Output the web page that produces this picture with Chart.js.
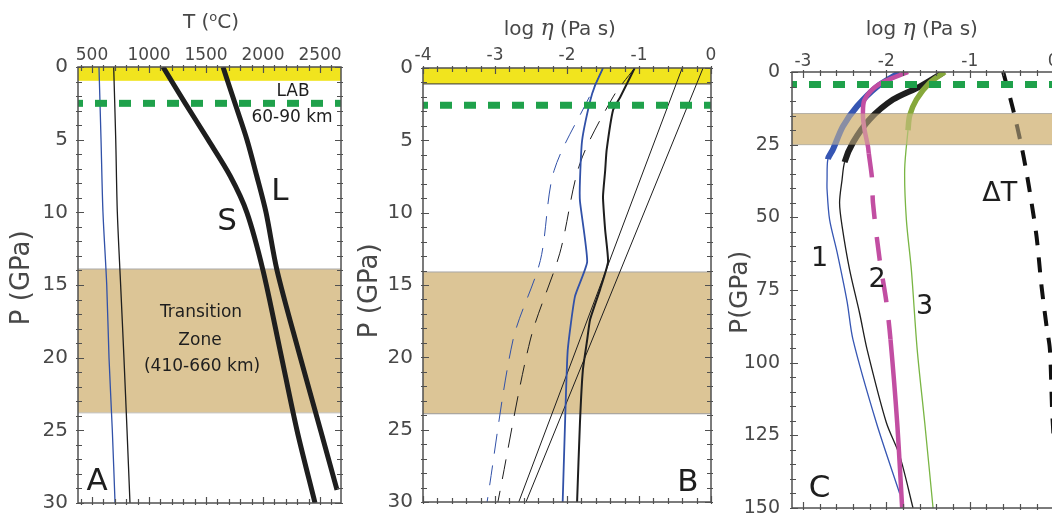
<!DOCTYPE html>
<html>
<head>
<meta charset="utf-8">
<script src="https://cdn.jsdelivr.net/npm/chart.js@4/dist/chart.umd.min.js"></script>
<style>
  html, body { margin: 0; padding: 0; background: #fff; overflow: hidden; }
  body { width: 1052px; height: 515px; position: relative; }
  canvas { position: absolute; top: 0; }
  #panelA { left: 0; }
  #panelB { left: 350px; }
  #panelC { left: 720px; }
</style>
</head>
<body>
<canvas id="panelA" width="350" height="515"></canvas>
<canvas id="panelB" width="370" height="515"></canvas>
<canvas id="panelC" width="400" height="515"></canvas>
<script>
const FONT = '"DejaVu Sans", sans-serif';
const INK = '#1e1e1e';
const GREY = '#484848';

// panel A: temperature against pressure
const pGeo = [0, 5, 10, 15, 20, 25, 30];
const tGeoBlue = [561, 579, 596, 629, 649, 678, 702];
const tGeoBlack = [690, 708, 722, 751, 780, 807, 833];
const pSol = [0, 2.5, 5, 7.5, 10, 14, 19.5, 25, 30];
const tSol = [1123, 1318, 1518, 1712, 1858, 2000, 2150, 2298, 2456];
const pLiq = [0, 2.5, 5, 7.5, 10, 14, 19.5, 25, 29.1];
const tLiq = [1649, 1754, 1859, 1945, 2026, 2123, 2310, 2505, 2649];
const tTicks = [500, 1000, 1500, 2000, 2500];
const pTicksAB = [0, 5, 10, 15, 20, 25, 30];

// panel B: viscosity to 30 GPa
const pBlueB = [0, 1.2, 2.3, 5, 7.8, 9.2, 13.4, 15.8, 19.5, 25, 30];
const etaBlueB = [-1.5, -1.61, -1.68, -1.79, -1.82, -1.82, -1.72, -1.89, -1.99, -2.03, -2.06];
const pBlueDashB = [0, 1.9, 7.1, 13.3, 18.8, 30];
const etaBlueDashB = [-1.5, -1.68, -2.18, -2.37, -2.75, -3.11];
const pBlackB = [0, 2, 2.9, 5.7, 7.1, 8.9, 11.2, 13.4, 15.3, 17.4, 18.8, 20.9, 24.5, 30];
const etaBlackB = [-1.06, -1.26, -1.36, -1.45, -1.47, -1.5, -1.47, -1.43, -1.54, -1.68, -1.72, -1.78, -1.82, -1.86];
const pBlackDashB = [0, 2, 6.6, 12.8, 18.8, 30];
const etaBlackDashB = [-1.06, -1.36, -1.82, -2.1, -2.51, -2.96];
const pLinesB = [0, 30];
const etaLine1B = [-0.4, -2.67];
const etaLine2B = [-0.11, -2.57];
const etaTicksB = [-4, -3, -2, -1, 0];

// panel C: viscosity to 150 GPa
const pBlueC = [0.2, 5, 11.8, 18.7, 26.7, 30, 37, 40.4, 50.7, 62, 79, 92, 120.6, 145];
const etaBlueC = [-1.84, -2.11, -2.35, -2.52, -2.64, -2.7, -2.71, -2.71, -2.68, -2.59, -2.47, -2.4, -2.12, -1.84];
const pBlackC = [0.2, 5, 9.5, 16.3, 24.3, 31, 37, 45, 53, 68, 83, 95.5, 120.6, 132, 150];
const etaBlackC = [-1.32, -1.6, -1.92, -2.2, -2.4, -2.5, -2.53, -2.56, -2.53, -2.44, -2.32, -2.23, -2.0, -1.84, -1.68];
const pPinkC = [0, 4.3, 9.5, 15, 20, 25.6, 28, 37, 45, 64.5, 79, 92, 120.6, 150];
const etaPinkC = [-1.74, -2.09, -2.26, -2.28, -2.26, -2.22, -2.21, -2.17, -2.16, -2.08, -2.0, -1.95, -1.87, -1.81];
const pGreenC = [0, 3.7, 9.5, 15, 20, 33.5, 50.7, 68, 95.5, 120.6, 150];
const etaGreenC = [-1.3, -1.48, -1.64, -1.72, -1.74, -1.78, -1.76, -1.7, -1.63, -1.54, -1.44];
const pDeltaT = [0, 13, 25.6, 34.6, 45, 56.6, 73.8, 87.5, 95.5, 118.5, 150];
const etaDeltaT = [-0.6, -0.48, -0.38, -0.32, -0.26, -0.2, -0.14, -0.08, -0.04, -0.01, 0.06];
const etaTicksC = [-3, -2, -1, 0];
const pTicksC = [0, 25, 50, 75, 100, 125, 150];

// layer boundaries (GPa)
const lidA = [0, 0.95], lidB = [0, 1.1];
const labA = 2.5, labB = 2.58, labC = 4.3;
const tzA = [13.9, 23.8], tzB = [14.1, 23.9], tzC = [14.3, 25];

const pts = (xs, ys) => xs.map((x, i) => ({ x, y: ys[i] }));
const YELLOW = '#f1e41e', TAN = '#dcc596', LABGREEN = '#1fa14b';

function line(data, color, width, extra) {
  return Object.assign({ data, showLine: true, borderColor: color, borderWidth: width,
    pointRadius: 0, tension: 0.3, fill: false }, extra || {});
}
function labLine(p, x0, x1) {
  return line(pts([x0, x1], [p, p]), LABGREEN, 7, { borderDash: [12, 12], borderDashOffset: 7, tension: 0 });
}

function richText(ctx, parts, cx, baseline) {
  let w = 0;
  parts.forEach(p => { ctx.font = p.font; p.w = ctx.measureText(p.t).width; w += p.w; });
  let x = cx - w / 2;
  ctx.textAlign = 'left';
  ctx.textBaseline = 'alphabetic';
  parts.forEach(p => { ctx.font = p.font; ctx.fillText(p.t, x, baseline - (p.rise || 0)); x += p.w; });
}

function tickMarks(ctx, a, scale, step, majors, horizontal) {
  const n0 = Math.ceil(scale.min / step - 1e-6), n1 = Math.floor(scale.max / step + 1e-6);
  for (let i = n0; i <= n1; i++) {
    const v = i * step;
    const len = majors.some(m => Math.abs(m - v) < step / 10) ? 6 : 4;
    const p = Math.round(scale.getPixelForValue(v)) + 0.5;
    if (horizontal) {
      ctx.moveTo(p, a.top - 2); ctx.lineTo(p, a.top + len);
      ctx.moveTo(p, a.bottom + 2); ctx.lineTo(p, a.bottom - len);
    } else {
      ctx.moveTo(a.left - 2, p); ctx.lineTo(a.left + len, p);
      ctx.moveTo(a.right + 2, p); ctx.lineTo(a.right - len, p);
    }
  }
}

function bandRect(ctx, a, y, b) {
  const y0 = y.getPixelForValue(b.range[0]), y1 = y.getPixelForValue(b.range[1]);
  ctx.fillRect(a.left, y0, a.right - a.left, y1 - y0);
  return [y0, y1];
}

const decor = cfg => ({
  id: 'decor',
  beforeDatasetsDraw(chart) {
    const { ctx, chartArea: a, scales: { y } } = chart;
    ctx.save();
    cfg.bands.forEach(b => {
      ctx.fillStyle = b.fill;
      const [y0, y1] = bandRect(ctx, a, y, b);
      ctx.lineWidth = 1;
      if (b.edgeTop) {
        ctx.strokeStyle = b.edgeTop; ctx.beginPath();
        ctx.moveTo(a.left, y0); ctx.lineTo(a.right, y0); ctx.stroke();
      }
      if (b.edgeBottom) {
        ctx.strokeStyle = b.edgeBottom; ctx.beginPath();
        ctx.moveTo(a.left, y1); ctx.lineTo(a.right, y1); ctx.stroke();
      }
    });
    ctx.restore();
  },
  afterDatasetsDraw(chart) {
    if (!cfg.veil) return;
    const { ctx, chartArea: a, scales: { y } } = chart;
    ctx.save();
    ctx.globalAlpha = cfg.veil.alpha;
    ctx.fillStyle = cfg.veil.fill;
    bandRect(ctx, a, y, cfg.veil);
    ctx.restore();
  },
  afterDraw(chart) {
    const { ctx, chartArea: a, scales: { x, y } } = chart;
    ctx.save();
    ctx.strokeStyle = '#505050';
    ctx.lineWidth = 1.2;
    ctx.beginPath();
    tickMarks(ctx, a, x, cfg.xMinor, cfg.xTicks, true);
    tickMarks(ctx, a, y, cfg.yMinor, cfg.yTicks, false);
    ctx.stroke();
    ctx.lineWidth = 1.5;
    ctx.strokeRect(a.left, a.top, a.right - a.left, a.bottom - a.top);

    ctx.fillStyle = INK;
    ctx.textAlign = 'center';
    ctx.textBaseline = 'middle';
    cfg.notes.forEach(n => {
      ctx.font = n.size + 'px ' + FONT;
      ctx.fillText(n.t, x.getPixelForValue(n.x), y.getPixelForValue(n.y));
    });

    ctx.fillStyle = GREY;
    richText(ctx, cfg.xTitle.parts, x.getPixelForValue(cfg.xTitle.at), a.top - cfg.xTitle.lift);
    ctx.translate(a.left - cfg.yTitle.gap, y.getPixelForValue(cfg.yTitle.at));
    ctx.rotate(-Math.PI / 2);
    ctx.font = cfg.yTitle.size + 'px ' + FONT;
    ctx.textAlign = 'center';
    ctx.textBaseline = 'middle';
    ctx.fillText(cfg.yTitle.text, 0, 0);
    ctx.restore();
  }
});

function makePanel(id, cfg) {
  return new Chart(document.getElementById(id), {
    type: 'scatter',
    data: { datasets: cfg.datasets },
    options: {
      responsive: false,
      animation: false,
      events: [],
      layout: { padding: { left: 0, top: 0, right: cfg.padRight, bottom: cfg.padBottom } },
      plugins: { legend: { display: false }, tooltip: { enabled: false } },
      scales: {
        x: {
          type: 'linear', position: 'top', min: cfg.xMin, max: cfg.xMax,
          afterBuildTicks: s => { s.ticks = cfg.xTicks.map(v => ({ value: v })); },
          afterFit: s => { s.height = cfg.top; s.paddingLeft = 0; s.paddingRight = 0; },
          grid: { display: false, drawTicks: false }, border: { display: false },
          ticks: { font: { family: FONT, size: cfg.xFont }, color: GREY, padding: cfg.xPad,
            maxRotation: 0, autoSkip: false, callback: v => String(v) }
        },
        y: {
          type: 'linear', position: 'left', reverse: true, min: cfg.yMin, max: cfg.yMax,
          afterBuildTicks: s => { s.ticks = cfg.yTicks.map(v => ({ value: v })); },
          afterFit: s => { s.width = cfg.left; s.paddingTop = 0; s.paddingBottom = 0; },
          grid: { display: false, drawTicks: false }, border: { display: false },
          ticks: { font: { family: FONT, size: cfg.yFont }, color: GREY, padding: cfg.yPad,
            autoSkip: false, callback: v => String(v) }
        }
      }
    },
    plugins: [decor(cfg)]
  });
}

const TITLE = '20px ' + FONT;
const etaTitle = [
  { t: 'log ', font: TITLE },
  { t: 'η', font: 'italic 22px "DejaVu Serif", serif' },
  { t: ' (Pa s)', font: TITLE }
];

makePanel('panelA', {
  xMin: 377, xMax: 2684, yMin: 0, yMax: 30,
  xTicks: tTicks, yTicks: pTicksAB, xMinor: 100, yMinor: 1,
  left: 78, top: 67, padRight: 9, padBottom: 12,
  xFont: 17, yFont: 20, xPad: 1, yPad: 10,
  datasets: [
    labLine(labA, 377, 2684),
    line(pts(tGeoBlue, pGeo), '#3151a8', 1.3),
    line(pts(tGeoBlack, pGeo), INK, 1.3),
    line(pts(tSol, pSol), INK, 5),
    line(pts(tLiq, pLiq), INK, 5)
  ],
  bands: [
    { range: lidA, fill: YELLOW },
    { range: tzA, fill: TAN, edgeTop: '#a9a9a9', edgeBottom: '#c4c4c4' }
  ],
  notes: [
    { t: 'S', x: 1684, y: 10.67, size: 31 },
    { t: 'L', x: 2149, y: 8.6, size: 31 },
    { t: 'LAB', x: 2263, y: 1.72, size: 17 },
    { t: '60-90 km', x: 2254, y: 3.5, size: 17 },
    { t: 'Transition', x: 1456, y: 16.93, size: 17 },
    { t: 'Zone', x: 1447, y: 18.8, size: 17 },
    { t: '(410-660 km)', x: 1465, y: 20.6, size: 17 },
    { t: 'A', x: 544, y: 28.56, size: 31 }
  ],
  xTitle: { at: 1544, lift: 39, parts: [
    { t: 'T (', font: TITLE },
    { t: 'o', font: '13px ' + FONT, rise: 7 },
    { t: 'C)', font: TITLE }
  ] },
  yTitle: { text: 'P (GPa)', size: 26, gap: 56, at: 14.5 }
});

makePanel('panelB', {
  xMin: -4, xMax: 0, yMin: 0, yMax: 30,
  xTicks: etaTicksB, yTicks: pTicksAB, xMinor: 0.2, yMinor: 1,
  left: 73, top: 68, padRight: 9, padBottom: 13,
  xFont: 17, yFont: 20, xPad: 2, yPad: 10,
  datasets: [
    labLine(labB, -4, 0),
    line(pts(etaBlueB, pBlueB), '#3151a8', 1.8, { tension: 0.15 }),
    line(pts(etaBlueDashB, pBlueDashB), '#3151a8', 1, { borderDash: [20, 12] }),
    line(pts(etaBlackB, pBlackB), INK, 2, { tension: 0.15 }),
    line(pts(etaBlackDashB, pBlackDashB), INK, 1, { borderDash: [20, 12] }),
    line(pts(etaLine1B, pLinesB), INK, 1, { tension: 0 }),
    line(pts(etaLine2B, pLinesB), INK, 1, { tension: 0 })
  ],
  bands: [
    { range: lidB, fill: YELLOW, edgeBottom: '#333' },
    { range: tzB, fill: TAN, edgeTop: '#a9a9a9', edgeBottom: '#9a9a9a' }
  ],
  notes: [{ t: 'B', x: -0.32, y: 28.7, size: 31 }],
  xTitle: { at: -2.1, lift: 33, parts: etaTitle },
  yTitle: { text: 'P (GPa)', size: 26, gap: 53, at: 15.4 }
});

// thick near the surface, thin below
const thickTo = (limit, wide, thin) => c => (c.p1.parsed.y <= limit + 0.01 ? wide : thin);

makePanel('panelC', {
  xMin: -3.13, xMax: 0.62, yMin: 0, yMax: 150,
  xTicks: etaTicksC, yTicks: pTicksC, xMinor: 0.2, yMinor: 5,
  left: 72, top: 72, padRight: 15, padBottom: 7,
  xFont: 17, yFont: 19, xPad: 0, yPad: 12,
  datasets: [
    labLine(labC, -3.13, 0.62),
    line(pts(etaDeltaT, pDeltaT), '#111', 4, { borderDash: [15, 12] }),
    line(pts(etaPinkC, pPinkC), '#c24ea2', 4.5, {
      segment: { borderDash: c => (c.p0.parsed.y >= 27.9 && c.p1.parsed.y <= 92.1 ? [24, 18] : []) }
    }),
    line(pts(etaGreenC, pGreenC), '#79b543', 1.3, {
      segment: { borderWidth: thickTo(20, 5.5, 1.3), borderColor: thickTo(20, '#86a83b', '#79b543') }
    }),
    line(pts(etaBlackC, pBlackC), INK, 1.3, { segment: { borderWidth: thickTo(31, 6, 1.3) } }),
    line(pts(etaBlueC, pBlueC), '#3656b3', 1.3, { segment: { borderWidth: thickTo(30, 6, 1.3) } })
  ],
  bands: [{ range: tzC, fill: TAN, edgeTop: '#a9a9a9', edgeBottom: '#a9a9a9' }],
  veil: { range: tzC, fill: TAN, alpha: 0.5 },
  notes: [
    { t: '1', x: -2.8, y: 64.5, size: 27 },
    { t: '2', x: -2.11, y: 71.4, size: 27 },
    { t: '3', x: -1.54, y: 80.7, size: 27 },
    { t: 'ΔT', x: -0.64, y: 42.1, size: 27 },
    { t: 'C', x: -2.8, y: 143.6, size: 31 }
  ],
  xTitle: { at: -1.575, lift: 37, parts: etaTitle },
  yTitle: { text: 'P(GPa)', size: 25, gap: 52, at: 75.8 }
});
</script>
</body>
</html>
